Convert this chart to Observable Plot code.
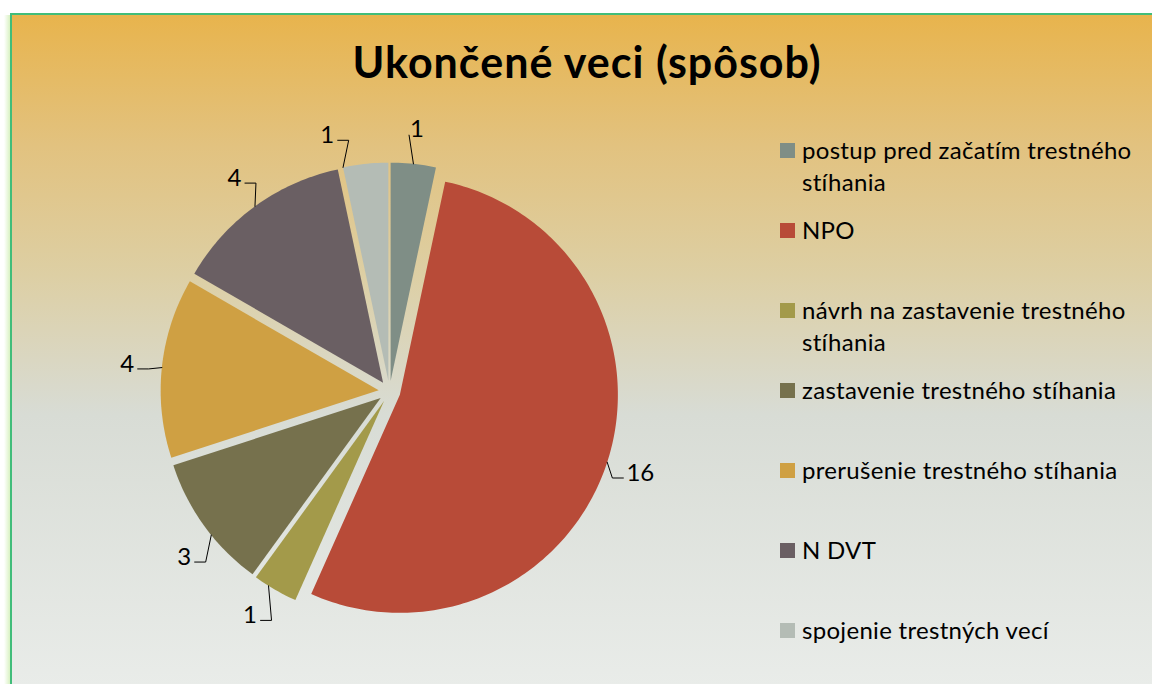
<!DOCTYPE html>
<html>
<head>
<meta charset="utf-8">
<script src="https://cdn.jsdelivr.net/npm/d3@7"></script>
<script src="https://cdn.jsdelivr.net/npm/@observablehq/plot@0.6"></script>
<style>
  html, body { margin: 0; padding: 0; background: #ffffff; overflow: hidden; }
  #wrap { position: relative; width: 1152px; height: 684px; overflow: hidden; font-family: Lato, "Open Sans", sans-serif; color: #000; }
  #glow { position: absolute; left: 4px; top: 15px; width: 8px; height: 669px; background: linear-gradient(to right, rgba(190, 235, 150, 0), rgba(170, 225, 120, 0.6)); }
  #panel { position: absolute; left: 10px; top: 13px; width: 1142px; height: 671px;
    border-top: 2px solid #41bd7a; border-left: 2px solid #41bd7a;
    background: linear-gradient(to bottom, #e8b44d 0px, #e2c27f 130px, #ddcfa4 260px, #d8dcd5 400px, #e9ece9 671px); }
  #title { position: absolute; left: 10px; width: 1154px; top: 34px; text-align: center; font-weight: bold; font-size: 43px; letter-spacing: 1px; line-height: 56px; white-space: nowrap; }
  #chart { position: absolute; left: 0; top: 0; }
  #chart svg { overflow: visible; }
  .item { position: absolute; left: 780px; width: 372px; }
  .sw { position: absolute; left: 0; top: 9px; width: 15px; height: 15px; }
  .lbl { position: absolute; left: 22px; top: 0; width: 350px; font-size: 24px; letter-spacing: 0.3px; line-height: 32px; }
</style>
</head>
<body>
<div id="wrap">
  <div id="glow"></div>
  <div id="panel"></div>
  <div id="title"></div>
  <div id="chart"></div>
  <div id="legend"></div>
</div>
<script>
const title = "Ukončené veci (spôsob)";
const categories = [
  "postup pred začatím trestného stíhania",
  "NPO",
  "návrh na zastavenie trestného stíhania",
  "zastavenie trestného stíhania",
  "prerušenie trestného stíhania",
  "N DVT",
  "spojenie trestných vecí"
];
const values = [1, 16, 1, 3, 4, 4, 1];
const colors = ["#7f8e86", "#b84b38", "#a39a4a", "#76714d", "#cfa043", "#6a5f63", "#b4bcb5"];
// best-fit label placement tweak, degrees around each slice's bisector
const labelNudge = [0, 0, 2, -3, 0, 0, -8];

const CX = 389, CY = 391, R = 218, EXPLODE = 0.05;
const PX = 1 / R; // one pixel in data units

document.getElementById("title").textContent = title;

const arcs = d3.pie().sort(null).value(d => d)(values);
const slices = [], labels = [], leaders = [];
arcs.forEach((a, i) => {
  const mid = (a.startAngle + a.endAngle) / 2;
  const ox = EXPLODE * Math.sin(mid), oy = EXPLODE * Math.cos(mid);
  slices.push({x: ox, y: oy, key: categories[i]});
  const n = Math.max(8, Math.ceil((a.endAngle - a.startAngle) / (Math.PI / 180)));
  for (let k = 0; k <= n; k++) {
    const t = a.startAngle + (a.endAngle - a.startAngle) * k / n;
    slices.push({x: ox + Math.sin(t), y: oy + Math.cos(t), key: categories[i]});
  }
  const lt = mid + labelNudge[i] * Math.PI / 180;
  const text = String(values[i]);
  const lx = ox + 1.16 * Math.sin(lt), ly = oy + 1.16 * Math.cos(lt);
  labels.push({x: lx, y: ly, text});
  // leader line: from the slice edge, elbow, then horizontal towards the label
  const at = Math.min(Math.max(lt, a.startAngle), a.endAngle);
  const sx = ox + Math.sin(at), sy = oy + Math.cos(at);
  const hw = (6.5 * text.length + 4) * PX;
  const side = Math.sign(lx - sx);
  if (Math.abs(lx - sx) < 15 * PX) {
    leaders.push({x: sx, y: sy, id: i});
    leaders.push({x: lx - 8 * PX, y: ly - 6 * PX, id: i});
  } else {
    const ey = ly - 5 * PX;
    leaders.push({x: sx, y: sy, id: i});
    leaders.push({x: lx - side * (hw + 11 * PX), y: ey, id: i});
    leaders.push({x: lx - side * hw, y: ey, id: i});
  }
});

const chart = Plot.plot({
  width: 1152,
  height: 684,
  margin: 0,
  x: {domain: [-1, 1], range: [CX - R, CX + R], axis: null},
  y: {domain: [-1, 1], range: [CY + R, CY - R], axis: null},
  color: {domain: categories, range: colors},
  style: {background: "transparent", overflow: "visible"},
  marks: [
    Plot.line(slices, {x: "x", y: "y", z: "key", fill: "key", stroke: "none", curve: "linear-closed"}),
    Plot.line(leaders, {x: "x", y: "y", z: "id", stroke: "#000", strokeWidth: 1}),
    Plot.text(labels, {x: "x", y: "y", text: "text", fontSize: 24, fill: "#000", fontFamily: "Lato, 'Open Sans', sans-serif"})
  ]
});
document.getElementById("chart").appendChild(chart);

const legend = document.getElementById("legend");
categories.forEach((c, i) => {
  const item = document.createElement("div");
  item.className = "item";
  item.style.top = (134 + 80 * i) + "px";
  const sw = document.createElement("div");
  sw.className = "sw";
  sw.style.background = colors[i];
  const lbl = document.createElement("div");
  lbl.className = "lbl";
  lbl.textContent = c;
  item.appendChild(sw);
  item.appendChild(lbl);
  legend.appendChild(item);
});
</script>
</body>
</html>
